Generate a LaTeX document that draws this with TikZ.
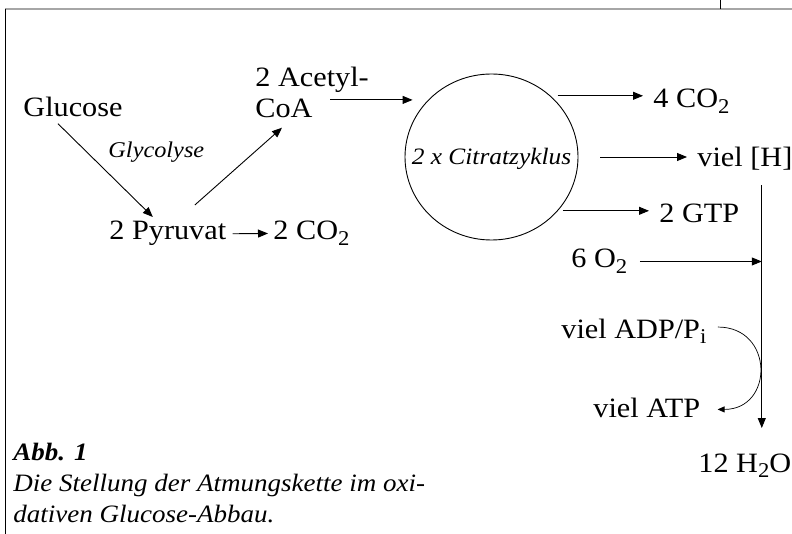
\documentclass[tikz,border=0pt]{standalone}
\usepackage{fontspec}
\setmainfont{Liberation Serif}[FakeStretch=1.08]
\usetikzlibrary{arrows.meta,shapes.geometric}
\newcommand{\chsub}[1]{\raisebox{-5.5pt}{\fontsize{21}{21}\selectfont #1}}

\begin{document}
\begin{tikzpicture}[x=1pt,y=-1pt,line width=0.9pt]
        %
        % `species' is used for the substances, `process' for the italic names.
        % `flow' is used for the arrows, `cyclebox' for the circle.
        \tikzstyle{species} = [inner sep=0pt,anchor=base west,font=\fontsize{28}{31}\selectfont]
        \tikzstyle{process} = [inner sep=0pt,font=\fontsize{22.5}{26}\selectfont\itshape]
        \tikzstyle{flow} = [-{Triangle[length=10pt,width=8pt]}]
        \tikzstyle{smallflow} = [-{Triangle[length=7pt,width=6pt]}]
        \tikzstyle{cyclebox} = [draw,ellipse,inner sep=0pt,minimum width=173pt,minimum height=166pt]
        \useasboundingbox (0,0) rectangle (792,534);
        %
        % Frame
        \draw[gray!70,line width=2pt] (5,9.5) -- (792,9.5);
        \draw (5,9) -- (5,534);
        \draw (720,0) -- (720,9);
        %
        % Glycolysis
        \node[species] (glucose) at (23,117) {Glucose};
        \node[process,anchor=base west] (glyco) at (108,158) {Glycolyse};
        \node[species] (pyruvat) at (109,240) {2 Pyruvat};
        \node[species] (co2a) at (273,240) {2 CO\chsub{2}};
        \node[species,align=left] (acetyl) at (255,118) {2 Acetyl-\\CoA};
        \draw[flow] ([xshift=35pt,yshift=-6pt]glucose.south west) -- ([xshift=-15pt,yshift=4pt]pyruvat.north);
        \draw[flow] ([xshift=27pt,yshift=16pt]pyruvat.north) -- ([xshift=27pt,yshift=-9pt]acetyl.south west);
        \draw[flow] ([xshift=6pt]pyruvat.east) -- ([xshift=-5pt]co2a.west);
        %
        % Citric acid cycle
        \node[cyclebox] (cycle) at (491.5,157) {};
        \node[process,font=\fontsize{23.5}{26}\selectfont\itshape] (cyclename) at ([yshift=-2pt]cycle.center) {2 x Citratzyklus};
        \coordinate (inflow) at ([xshift=-39pt,yshift=-7pt]acetyl.east);
        \draw[flow,shorten >=-8pt] (inflow) -- (inflow -| cycle.west);
        %
        % Products
        \node[species] (co2b) at (653,108) {4 CO\chsub{2}};
        \node[species] (vielh) at (697,167) {viel [H]};
        \node[species] (gtp) at (659,223) {2 GTP};
        \coordinate (out1) at ([xshift=7pt]cycle.46);
        \coordinate (out2) at ([xshift=22pt]cycle.east);
        \coordinate (out3) at ([xshift=5pt]cycle.-39);
        \draw[flow,shorten >=10pt] (out1) -- (out1 -| co2b.west);
        \draw[flow,shorten >=10pt] (out2) -- (out2 -| vielh.west);
        \draw[flow,shorten >=10pt] (out3) -- (out3 -| gtp.west);
        %
        % Respiratory chain
        \node[species] (otwo) at (571,268) {6 O\chsub{2}};
        \node[species] (adp) at (561,338) {viel ADP/P\chsub{i}};
        \node[species] (atp) at (593,417) {viel ATP};
        \node[species] (water) at (698,472) {12 H\chsub{2}O};
        \coordinate (chaintop) at ([xshift=-31pt,yshift=-14pt]vielh.south east);
        \coordinate (o2start) at ([xshift=12pt]otwo.east);
        \draw[flow,shorten >=25pt] (chaintop) -- (chaintop |- water.north);
        \draw[flow] (o2start) -- (o2start -| chaintop);
        \draw[smallflow,line width=0.7pt] ([xshift=11pt,yshift=4pt]adp.east) to[out=0,in=0,looseness=1.75] ([xshift=17pt,yshift=-2pt]atp.east);
        %
        % Caption
        \node[inner sep=0pt,anchor=base west,align=left,font=\fontsize{25}{31}\selectfont\itshape] (caption) at (13,522)
        {\bfseries Abb. 1\\Die Stellung der Atmungskette im oxi-\\dativen Glucose-Abbau.};
        %
\end{tikzpicture}
\end{document}
